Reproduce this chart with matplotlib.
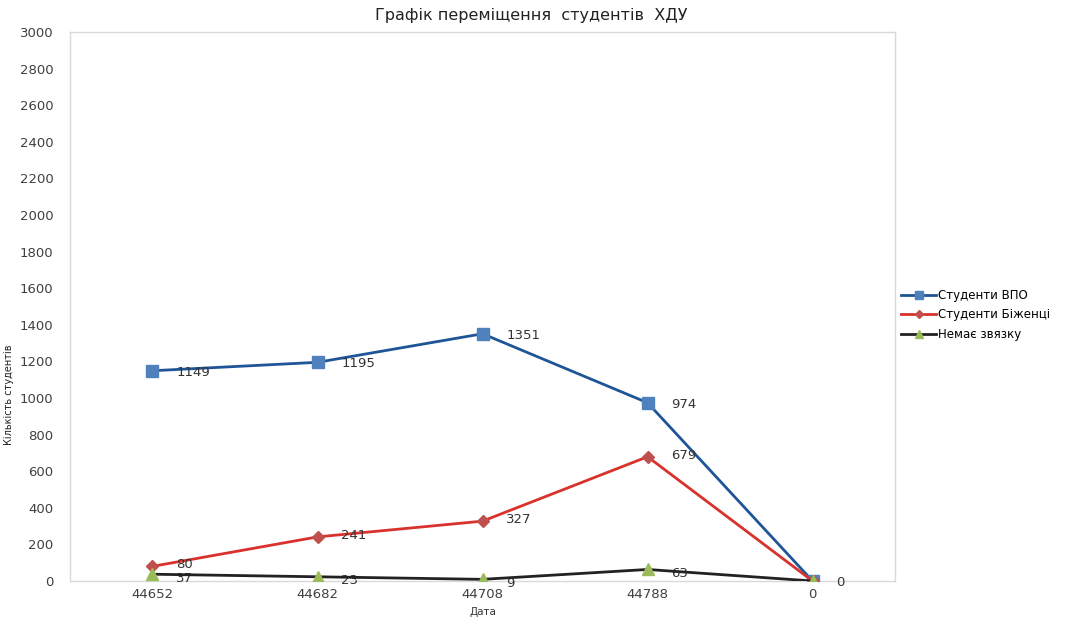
import matplotlib.pyplot as plt

# дані
dates = ['44652', '44682', '44708', '44788', '0']
vpo = [1149, 1195, 1351, 974, 0]
refugees = [80, 241, 327, 679, 0]
no_contact = [37, 23, 9, 63, 0]

plt.rcParams['font.family'] = ['DejaVu Sans']

fig = plt.figure(figsize=(10.73, 6.19), dpi=100)
ax = fig.add_axes([0.0652, 0.0614, 0.7690, 0.8869])

x = range(len(dates))
ax.plot(x, vpo, color='#1F5597', lw=2, marker='s', ms=8,
        mfc='#4F81BD', mec='#4F81BD', label='Студенти ВПО', zorder=3)
ax.plot(x, refugees, color='#D9312B', lw=2, marker='D', ms=6,
        mfc='#C0504D', mec='#C0504D', label='Студенти Біженці', zorder=3)
ax.plot(x, no_contact, color='#222222', lw=2, marker='^', ms=9,
        mfc='#9BBB59', mec='#9BBB59', label='Немає звязку', zorder=4)

# підписи даних
for series, dy in ((vpo, -1), (refugees, 1), (no_contact, -3)):
    for i, v in enumerate(series):
        if i == len(series) - 1 and series is not vpo:
            continue
        ax.annotate(str(v), (i, v), xytext=(17, dy), textcoords='offset points',
                    ha='left', va='center', fontsize=9.5, color='#333333')

ax.set_xlim(-0.5, len(dates) - 0.5)
ax.set_ylim(0, 3000)
ax.set_yticks(range(0, 3001, 200))
ax.set_xticks(list(x))
ax.set_xticklabels(dates)
ax.tick_params(axis='both', length=0, labelsize=9.5, colors='#404040')
ax.tick_params(axis='y', pad=12)
ax.tick_params(axis='x', pad=5)

for s in ax.spines.values():
    s.set_color('#D9D9D9')
    s.set_linewidth(1)

fig.text(0.495, 0.975, 'Графік переміщення  студентів  ХДУ', fontsize=11.5,
         color='#222222', ha='center', va='center')
fig.text(0.4505, 1 - 612 / 619, 'Дата', fontsize=7.5, color='#333333',
         ha='center', va='center')
ax.set_ylabel('Кількість студентів', fontsize=7, color='#222222')
ax.yaxis.set_label_coords(-0.068, 0.34)

ax.legend(loc='center left', bbox_to_anchor=(1.0, 0.485), frameon=False,
          fontsize=8.5, handlelength=3.0, handletextpad=0.1, labelspacing=0.55,
          borderaxespad=0.1, markerscale=0.65)

fig.savefig('out.png', dpi=100)
